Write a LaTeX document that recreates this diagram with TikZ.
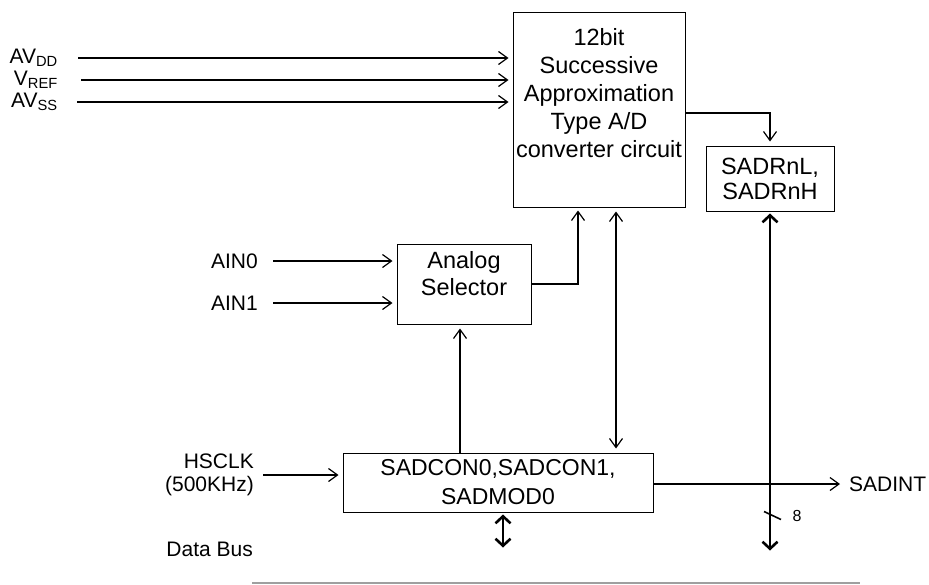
\documentclass[tikz,border=0pt]{standalone}
\usepackage{fontspec}
\setmainfont{Liberation Sans}
\usetikzlibrary{arrows.meta}

\newcommand{\boxfont}{\fontsize{23.5}{28}\selectfont}
\newcommand{\lblfont}{\fontsize{21}{23}\selectfont}

\tikzset{
  box/.style={draw, line width=1pt, align=center, font=\boxfont},
  boxtext/.style={font=\boxfont, align=center, anchor=north, inner sep=0pt},
  lbl/.style={font=\lblfont, inner sep=0pt},
  sig/.style={line width=1.2pt, shorten >=4pt,
    -{Straight Barb[length=9pt, width=13pt]}},
  sigboth/.style={sig, shorten <=4pt,
    {Straight Barb[length=9pt, width=13pt]}-{Straight Barb[length=9pt, width=13pt]}},
  bus/.style={line width=2.6pt, shorten <=2pt,
    {Straight Barb[length=7pt, width=15pt]}-{Straight Barb[length=7pt, width=15pt]}},
  rule/.style={draw=gray!75, line width=1.4pt}
}

\begin{document}
\begin{tikzpicture}[x=1pt, y=-1pt]
\useasboundingbox (0,0) rectangle (929,584);

% blocks
\node (adc) [box, minimum width=172pt, minimum height=195pt] at (599,109.5) {};
\node (adctext) [boxtext] at (599,28) {12bit\\Successive\\Approximation\\Type A/D\\converter circuit};
\node (sadr) [box, minimum width=128pt, minimum height=65pt,
  font=\fontsize{23.5}{25}\selectfont] at (770,178.5) {SADRnL,\\SADRnH};
\node (sel) [box, minimum width=134pt, minimum height=80pt] at (464,284) {};
\node (seltext) [boxtext, font=\fontsize{23.5}{27}\selectfont] at (464,251) {Analog\\Selector};
\node (con) [box, minimum width=310pt, minimum height=59pt,
  font=\fontsize{23}{29}\selectfont] at (498,482.5) {SADCON0,SADCON1,\\SADMOD0};

% analog supplies
\node (avdd) [lbl, anchor=east] at (58,58) {AV\textsubscript{DD}};
\node (vref) [lbl, anchor=east] at (58,80) {V\textsubscript{REF}};
\node (avss) [lbl, anchor=east] at (58,102) {AV\textsubscript{SS}};
\draw[sig] ([xshift=20pt]avdd.east) -- (avdd -| adc.west);
\draw[sig] ([xshift=23pt]vref.east) -- (vref -| adc.west);
\draw[sig] ([xshift=19pt]avss.east) -- (avss -| adc.west);

% analog inputs
\node (ain0) [lbl, anchor=east] at (258,261) {AIN0};
\node (ain1) [lbl, anchor=east] at (258,303) {AIN1};
\draw[sig] ([xshift=15pt]ain0.east) -- (ain0 -| sel.west);
\draw[sig] ([xshift=15pt]ain1.east) -- (ain1 -| sel.west);

% clock and interrupt
\node (hsclk) [lbl, align=right, anchor=east] at (254,475) {HSCLK\\(500KHz)};
\draw[sig] ([xshift=9pt]hsclk.east) -- (hsclk -| con.west);
\node (sadint) [lbl, anchor=west] at (849,484) {SADINT};
\draw[sig, shorten >=9pt] (con.east |- sadint) -- (sadint.west);

% internal connections
\draw[sig] ([yshift=-3.5pt]adc.east) -| (sadr.north);
\draw[sig, shorten >=3pt] (sel.east) -| ([xshift=-21pt]adc.south);
\draw[sigboth] ([xshift=17pt]adc.south) -- ([xshift=17pt]adc.south |- con.north);
\draw[sig] ([xshift=-4pt]sel.south |- con.north) -- ([xshift=-4pt]sel.south);

% data bus
\coordinate (sadrend) at ([yshift=-339pt]sadr.south);
\coordinate (conend) at ([xshift=5pt, yshift=-35pt]con.south);
\draw[bus] (sadr.south) -- (sadrend);
\draw[bus] ([xshift=5pt]con.south) -- (conend);
\draw[line width=1.6pt] (sadrend) ++(-6,-39) -- ++(17,8);
\node (buswidth) [font=\fontsize{16}{16}\selectfont, inner sep=0pt] at (797,516) {8};
\node (databus) [lbl, anchor=east] at (253,549) {Data Bus};
\draw[rule] (252,583) -- (860,583);
\end{tikzpicture}
\end{document}
